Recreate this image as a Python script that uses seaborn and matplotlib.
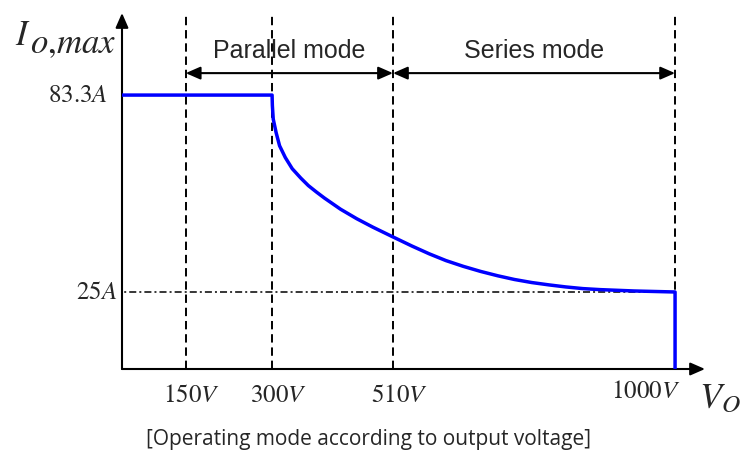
import matplotlib
matplotlib.use("Agg")
import matplotlib.pyplot as plt
import seaborn as sns
from matplotlib import transforms

# ---- data ----
volt = [0, 300, 300.5, 302, 307, 313, 323, 335, 350, 363, 377, 391, 419, 447,
        475, 510, 543, 573, 602, 632, 662, 692, 721, 751, 781, 810, 840, 870,
        929, 1000, 1000]
curr = [83.3, 83.3, 80.2, 76.2, 72.2, 68.3, 64.8, 61.5, 58.7, 56.5, 54.6, 52.8,
        49.5, 46.7, 44.2, 41.3, 38.6, 36.3, 34.3, 32.6, 31.1, 29.8, 28.7, 27.8,
        27.1, 26.5, 26.0, 25.7, 25.3, 25.0, 0.0]
mode_bounds = [150, 510, 1000]
mode_names = ["Parallel mode", "Series mode"]
marker_volts = [150, 300, 510, 1000]
marker_labels = ["$150V$", "$300V$", "$510V$", "$1000V$"]
level_vals = [83.3, 25]
level_labels = ["$83.3A$", "$25A$"]
min_current = 25
caption = "[Operating mode according to output voltage]"

sns.set_style("white")
plt.rcParams["font.family"] = ["Liberation Sans", "DejaVu Sans"]
plt.rcParams["mathtext.fontset"] = "stix"

W, H = 746, 455
fig = plt.figure(figsize=(W / 100, H / 100), dpi=100)


def fx(px):
    return px / W


def fy(py):
    return 1 - py / H


ax = fig.add_axes([fx(122), fy(369), fx(705) - fx(122), fy(13) - fy(369)])
ax.set_xlim(39.3, 1052)
ax.set_ylim(2.2, 107.6)
for s in ax.spines.values():
    s.set_visible(False)
ax.set_xticks([])
ax.set_yticks([])
ax.grid(False)

# axis arrows
arrow_kw = dict(arrowstyle="-|>,head_length=0.8,head_width=0.35", lw=1.5,
                color="black", shrinkA=0, shrinkB=0, mutation_scale=11)
ax.annotate("", xy=(1, 0), xytext=(0, 0), xycoords="axes fraction",
            arrowprops=arrow_kw, annotation_clip=False)
ax.annotate("", xy=(0, 1), xytext=(0, 0), xycoords="axes fraction",
            arrowprops=arrow_kw, annotation_clip=False)

# dashed vertical boundaries
for v in marker_volts:
    ax.axvline(v, color="black", lw=1.4, dashes=(4.3, 2.5), zorder=1)

# dash-dot 25A level
ax.plot([0, 1000], [min_current, min_current], color="black", lw=1.1,
        dashes=(4.6, 2, 1.3, 2), zorder=1)

# main curve
sns.lineplot(x=volt, y=curr, estimator=None, sort=False, color="#0000FF",
             lw=2.5, ax=ax, zorder=3, solid_joinstyle="round",
             solid_capstyle="butt")

# mode arrows and names
ya = 89.8
for (a, b), name in zip(zip(mode_bounds[:-1], mode_bounds[1:]), mode_names):
    ax.annotate("", xy=(b, ya), xytext=(a, ya),
                arrowprops=dict(arrowstyle="<|-|>,head_length=0.8,head_width=0.35",
                                lw=1.5, color="black", shrinkA=0, shrinkB=0,
                                mutation_scale=11))
    ax.text((a + b) / 2, 94.25, name, ha="center", va="baseline", fontsize=18,
            family=["Liberation Sans"])

# voltage labels
bl = transforms.blended_transform_factory(ax.transData, ax.transAxes)
for v, lab in zip(marker_volts, marker_labels):
    if v == marker_volts[-1]:
        off = transforms.ScaledTranslation(5 / 100, -10 / 100, fig.dpi_scale_trans)
        ax.text(v, 0, lab, transform=bl + off, ha="right", va="top", fontsize=18)
    else:
        off = transforms.ScaledTranslation(6 / 100, -14 / 100, fig.dpi_scale_trans)
        ax.text(v, 0, lab, transform=bl + off, ha="center", va="top", fontsize=18)

# current labels
bl2 = transforms.blended_transform_factory(ax.transAxes, ax.transData)
for val, lab, gap in zip(level_vals, level_labels, [14, 5]):
    off = transforms.ScaledTranslation(-gap / 100, 0, fig.dpi_scale_trans)
    ax.text(0, val, lab, transform=bl2 + off, ha="right", va="center", fontsize=18)

# axis titles
fig.text(fx(15), fy(45), "$I$", fontsize=25, ha="left", va="baseline")
fig.text(fx(30), fy(53), "$o{,}max$", fontsize=25, ha="left", va="baseline")
fig.text(fx(699), fy(408), "$V_O$", fontsize=26, ha="left", va="baseline")

# caption
fig.text(fx(369), fy(440), caption, ha="center", va="center", fontsize=15,
         family=["Open Sans", "DejaVu Sans"])

fig.savefig("out.png", dpi=100)
